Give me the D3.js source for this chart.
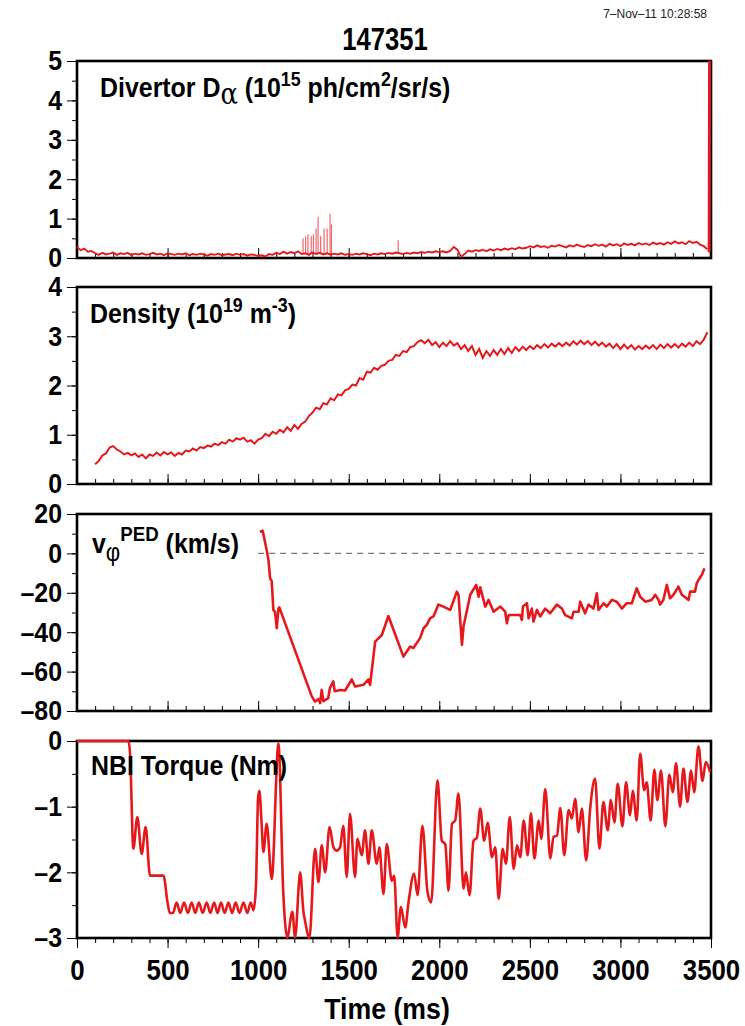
<!DOCTYPE html>
<html>
<head>
<meta charset="utf-8">
<script src="https://cdn.jsdelivr.net/npm/d3@7"></script>
<style>
  body { margin: 0; background: #fff; }
  svg text { font-family: "Liberation Sans", Arial, Helvetica, sans-serif; font-weight: bold; fill: #000; }
</style>
</head>
<body>
<svg id="chart" width="745" height="1026"></svg>
<script>
// ---- data ----
var shotNumber = "147351";
var stamp = "7\u2013Nov\u201311 10:28:58";
var xTicks = [0, 500, 1000, 1500, 2000, 2500, 3000, 3500];

// divertor D-alpha, sampled every 20 ms from 0 to 3480
var daVal = [
  0.28,0.2,0.24,0.16,0.18,
  0.12,0.08,0.13,0.09,0.11,0.14,0.08,0.12,0.1,0.13, 0.07,0.11,0.09,0.12,0.08,0.1,0.13,0.09,0.11,0.07,
  0.12,0.1,0.08,0.11,0.09,0.12,0.07,0.1,0.08,0.11, 0.09,0.06,0.1,0.08,0.11,0.07,0.09,0.1,0.07,0.11,
  0.08,0.1,0.06,0.09,0.08,
  0.05,0.07,0.04,0.1,0.08,0.13,0.1,0.16,0.11,0.15,0.12,0.17,0.1,
  0.12,0.08,0.14,0.1,0.13,0.09,0.12,0.08,0.11,0.09,0.12,0.08,
  0.1,0.08,0.11,0.09,0.12,0.1,0.07,0.11,0.09,0.12, 0.1,0.13,0.11,0.14,0.12,0.1,0.13,0.11,0.14,0.12,
  0.15,0.13,0.16,0.14,0.17,
  0.15,0.17,0.14,0.18,0.28,0.21,0.03,0.1,0.19,0.16, 0.2,0.18,0.21,0.17,0.22,0.19,0.23,0.2,0.24,0.21,
  0.25,0.22,0.27,0.24,0.26,
  0.3,0.27,0.32,0.28,0.3,0.26,0.31,0.29,0.33,0.3, 0.27,0.32,0.29,0.34,0.3,0.28,0.33,0.3,0.35,0.31,
  0.34,0.29,0.36,0.32,0.35,0.3,0.37,0.33,0.36,0.32, 0.38,0.34,0.37,0.33,0.39,0.35,0.38,0.34,0.4,0.36,
  0.42,0.37,0.4,0.35,0.43,0.38,0.41,0.34,0.3,0.22
];
var daTailT = [3486, 3490, 3492];
var daTailV = [0.15, 0.18, 5.0];
// ELM spikes
var elmT = [1248,1262,1275,1293,1305,1320,1331,1345,1364,1381,1397,1405,1773];
var elmV = [0.5,0.55,0.6,0.55,0.6,0.75,1.05,0.55,0.75,0.75,1.12,0.85,0.45];

// line-averaged density, sampled every 20 ms from 100 to 3480
var neVal = [
  0.4,0.47,0.58,0.62,0.74,0.77,0.7,0.66,0.6,0.63,
  0.58,0.62,0.55,0.6,0.52,0.6,0.57,0.64,0.58,0.65,
  0.6,0.64,0.57,0.63,0.6,0.68,0.66,0.72,0.68,0.75,
  0.73,0.78,0.76,0.82,0.79,0.85,0.82,0.9,0.86,0.93,
  0.9,0.94,0.86,0.89,0.82,0.9,0.93,1.02,0.97,1.06,
  1.02,1.1,1.05,1.15,1.08,1.2,1.12,1.22,1.27,1.38,
  1.45,1.55,1.52,1.64,1.62,1.74,1.7,1.82,1.8,1.9,
  1.93,2.02,2.0,2.15,2.12,2.28,2.26,2.36,2.32,2.4,
  2.42,2.5,2.52,2.62,2.6,2.7,2.68,2.78,2.8,2.88,
  2.92,2.86,2.93,2.82,2.88,2.78,2.87,2.8,2.9,2.81,
  2.86,2.74,2.82,2.7,2.8,2.62,2.74,2.56,2.7,2.6,
  2.72,2.62,2.74,2.64,2.76,2.66,2.78,2.7,2.79,2.72,
  2.8,2.74,2.82,2.76,2.84,2.77,2.85,2.79,2.86,2.8,
  2.87,2.81,2.9,2.83,2.91,2.84,2.9,2.82,2.89,2.81,
  2.87,2.79,2.85,2.76,2.84,2.74,2.83,2.75,2.82,2.73,
  2.8,2.74,2.81,2.75,2.82,2.74,2.83,2.76,2.84,2.77,
  2.84,2.77,2.85,2.79,2.87,2.8,2.9,2.84,2.93,3.08
];

// pedestal toroidal rotation
var vTime = [1010,1025,1047,1057,1066,1075,1084,1093,1103,1112,1117,1296,1314,1333,1342,1351,1360,1387,1396,1415,
  1423,1452,1480,1517,1535,1581,1609,1618,1646,1683,1719,1802,1839,1857,1894,1913,1931,1949,1968,1995,
  2023,2060,2097,2106,2125,2134,2171,2204,2217,2226,2254,2272,2300,2337,2364,2373,2383,2410,2447,2456,
  2462,2484,2493,2511,2520,2539,2557,2585,2612,2649,2677,2695,2732,2741,2769,2778,2805,2824,2851,2870,
  2879,2907,2925,2953,2980,3008,3035,3063,3090,3109,3137,3173,3192,3210,3219,3237,3256,3274,3293,3320,
  3339,3376,3385,3412,3421,3431,3449,3464];
var vVal = [11,11.5,1.7,-3.4,-12.7,-14,-28.7,-29.6,-38,-28,-27.4,-72.6,-75.2,-74,-76,-69.3,-75,-73.5,-68.4,-65,
  -70,-69.3,-69.6,-64,-67.6,-66.7,-64,-66.7,-44.8,-41.4,-31.8,-52.4,-47.3,-48,-43,-38,-36.3,-33,-32,-26,
  -27,-28.7,-19.4,-21,-46.5,-37,-21,-16,-22,-17.2,-27,-23.6,-29.6,-27,-29.6,-35.5,-31.3,-31.3,-31.3,-33.8,
  -27,-25.3,-33,-28,-34.6,-28.7,-32,-28,-30.4,-26,-28,-31.3,-33,-29.6,-29.6,-24.5,-30.4,-26,-28,-20.3,
  -28.7,-25.3,-27,-23.6,-24.5,-28,-25.3,-25.3,-17.7,-22,-24.5,-23.6,-21,-23.6,-26,-23.6,-16,-22.8,-21,-16.9,
  -21,-23.6,-19.4,-19.4,-15.2,-13.5,-11,-7.6];

// NBI torque
var tqTime = [0,284,293,311,333,357,379,403,477,500,512,
  530,550,570,591,612,633,653,673,694,716,736,757,776,795,815,836,856,876,897,919,940,959,975,
  988,1000,1007,1018,1029,1047,1075,1112,1139,1161,1189,1204,1232,1250,1259,1283,1314,1333,1351,1370,1394,1416,1434,
  1452,1470,1489,1507,1535,1548,1572,1590,1609,1627,1655,1669,1692,1710,1738,1751,1770,1788,1812,1830,1861,1880,
  1907,1935,1955,1990,2014,2033,2051,2070,2088,2106,2134,2147,2167,2189,2208,2226,2248,2267,2291,2309,2328,2350,
  2368,2389,2411,2429,2447,2466,2488,2506,2525,2549,2563,2585,2613,2631,2650,2668,2690,2714,2732,2750,2769,2787,
  2811,2833,2860,2884,2906,2930,2947,2967,2985,3011,3031,3053,3068,3090,3109,3131,3145,3167,3187,3204,3224,3248,
  3270,3289,3307,3329,3348,3370,3390,3407,3431,3453,3471,3495];
var tqVal = [0,0,-0.19,-1.64,-1.16,-1.72,-1.31,-2.05,-2.05,-2.46,-2.62,
  -2.62,-2.46,-2.62,-2.46,-2.62,-2.46,-2.62,-2.46,-2.62,-2.46,-2.62,-2.46,-2.62,-2.46,-2.62,-2.46,-2.62,-2.46,-2.62,-2.46,-2.62,-2.46,-2.58,
  -2.2,-0.85,-0.76,-1.2,-1.69,-1.26,-2.1,-0.04,-2.33,-2.99,-2.6,-2.99,-2.0,-2.6,-2.74,-3.0,-1.64,-2.15,-1.59,-2.0,-1.31,-1.62,-1.67,
  -1.62,-1.29,-2.07,-1.11,-2.07,-1.49,-1.74,-1.36,-1.87,-1.36,-1.87,-1.62,-2.33,-1.57,-2.13,-2.05,-2.99,-2.53,-2.84,-2.46,-2.02,-2.35,
  -1.29,-2.3,-2.46,-0.6,-1.52,-1.57,-2.28,-1.26,-1.21,-0.8,-2.25,-2.0,-2.35,-1.52,-1.47,-1.03,-1.52,-1.24,-1.77,-1.62,-2.4,-1.64,
  -1.87,-1.16,-1.95,-1.59,-1.77,-1.21,-1.74,-1.1,-1.79,-1.21,-1.49,-0.73,-1.79,-1.46,-1.44,-1.02,-1.74,-1.05,-1.18,-0.88,-1.39,-1.03,
  -1.82,-1.03,-0.57,-1.64,-0.93,-1.36,-0.9,-1.24,-0.65,-1.3,-0.63,-1.13,-0.76,-1.21,-0.19,-0.75,-0.63,-1.21,-0.44,-0.9,-0.45,-1.3,
  -0.51,-0.78,-0.34,-1.0,-0.42,-0.93,-0.45,-0.78,-0.08,-0.61,-0.32,-0.47];

// ---- layout ----
var red = "#e5191c";
var sx = 0.89;          // fonts in the original look slightly condensed
var xLeft = 77, xRight = 711, panelH = 197;

var svg = d3.select("#chart");
var x = d3.scaleLinear().domain([0, 3500]).range([xLeft, xRight]);

var panels = [
  { id: "da", top: 61,  dom: [0, 5],    major: [0,1,2,3,4,5],          minorStep: 0.5 },
  { id: "ne", top: 287, dom: [0, 4],    major: [0,1,2,3,4],            minorStep: 0.5 },
  { id: "vp", top: 514, dom: [-80, 20], major: [-80,-60,-40,-20,0,20], minorStep: 10 },
  { id: "tq", top: 741, dom: [-3, 0],   major: [-3,-2,-1,0],           minorStep: 0.5 }
];

function scaledText(g, tx, ty, size, s) {
  return g.append("text")
    .attr("transform", "translate(" + tx + "," + ty + ") scale(" + (s || sx) + ",1)")
    .style("font-size", size + "px");
}

function lineFor(y) {
  return d3.line().x(function(d) { return x(d[0]); }).y(function(d) { return y(d[1]); });
}

svg.append("text")
  .attr("x", 707).attr("y", 18)
  .attr("text-anchor", "end")
  .style("font-size", "12px").style("font-weight", "normal").style("fill", "#222")
  .text(stamp);

scaledText(svg, 385, 50, 32, 0.8).attr("text-anchor", "middle").text(shotNumber);

panels.forEach(function(p, i) {
  var y = d3.scaleLinear().domain(p.dom).range([p.top + panelH, p.top]);
  p.y = y;
  var g = svg.append("g").attr("class", "panel-" + p.id);

  g.append("clipPath").attr("id", "clip-" + p.id)
    .append("rect")
      .attr("x", xLeft).attr("y", p.top - 2)
      .attr("width", xRight - xLeft + 1).attr("height", panelH + 4);

  // minor y ticks
  var minors = d3.range(p.dom[0], p.dom[1] + 1e-6, p.minorStep);
  g.append("g")
    .attr("transform", "translate(" + xLeft + ",0)")
    .call(d3.axisLeft(y).tickValues(minors).tickSize(5).tickFormat(""))
    .call(function(a) { a.select(".domain").remove(); });

  // major y ticks with labels
  g.append("g")
    .attr("class", "yaxis")
    .attr("transform", "translate(" + xLeft + ",0)")
    .call(d3.axisLeft(y).tickValues(p.major).tickSize(10).tickPadding(5)
      .tickFormat(function(d) { return d < 0 ? "\u2013" + Math.abs(d) : d; }))
    .call(function(a) {
      a.select(".domain").remove();
      a.selectAll("text")
        .attr("x", -15 / sx)
        .attr("transform", "scale(" + sx + ",1)")
        .style("font-size", "28px");
    });

  // x ticks: inside for the upper panels, outside for the bottom one
  var last = (i === panels.length - 1);
  var dir = last ? 1 : -1;
  g.append("g")
    .attr("transform", "translate(0," + (p.top + panelH) + ")")
    .call(d3.axisBottom(x).tickValues(d3.range(0, 3501, 100)).tickSize(5 * dir).tickFormat(""))
    .call(function(a) { a.select(".domain").remove(); });
  var xMajor = g.append("g")
    .attr("transform", "translate(0," + (p.top + panelH) + ")")
    .call(d3.axisBottom(x).tickValues(xTicks).tickSize(10 * dir).tickPadding(last ? 11 : 0)
      .tickFormat(last ? d3.format("d") : ""));
  xMajor.select(".domain").remove();
  if (last) {
    xMajor.selectAll("text")
      .attr("transform", "scale(" + sx + ",1)")
      .style("font-size", "29px");
  }

  // frame
  g.append("rect")
    .attr("x", xLeft).attr("y", p.top)
    .attr("width", xRight - xLeft).attr("height", panelH)
    .attr("fill", "none").attr("stroke", "#000").attr("stroke-width", 2.6);

  p.g = g;
});

// D-alpha
(function() {
  var p = panels[0], y = p.y;
  var body = p.g.append("g").attr("clip-path", "url(#clip-da)");
  body.selectAll("line.elm")
    .data(d3.zip(elmT, elmV))
    .enter().append("line")
      .attr("class", "elm")
      .attr("x1", function(d) { return x(d[0]); })
      .attr("x2", function(d) { return x(d[0]); })
      .attr("y1", y(0.1))
      .attr("y2", function(d) { return y(d[1]); })
      .attr("stroke", red).attr("stroke-opacity", 0.65).attr("stroke-width", 1.2);
  body.append("path")
    .datum(d3.zip(d3.range(0, 3500, 20), daVal))
    .attr("fill", "none").attr("stroke", red).attr("stroke-width", 1.9)
    .attr("d", lineFor(y));
  body.append("path")
    .datum(d3.zip(daTailT, daTailV))
    .attr("fill", "none").attr("stroke", red).attr("stroke-width", 3)
    .attr("d", lineFor(y));
})();

// density
(function() {
  var p = panels[1], y = p.y;
  p.g.append("g").attr("clip-path", "url(#clip-ne)")
    .append("path")
    .datum(d3.zip(d3.range(100, 3500, 20), neVal))
    .attr("fill", "none").attr("stroke", red).attr("stroke-width", 2)
    .attr("d", lineFor(y));
})();

// rotation
(function() {
  var p = panels[2], y = p.y;
  var body = p.g.append("g").attr("clip-path", "url(#clip-vp)");
  body.append("line")
    .attr("x1", x(1000)).attr("x2", x(3490))
    .attr("y1", y(0)).attr("y2", y(0))
    .attr("stroke", "#777").attr("stroke-width", 1.3).attr("stroke-dasharray", "6,5");
  body.append("path")
    .datum(d3.zip(vTime, vVal))
    .attr("fill", "none").attr("stroke", red).attr("stroke-width", 2.6)
    .attr("stroke-linejoin", "round")
    .attr("d", lineFor(y));
})();

// torque
(function() {
  var p = panels[3], y = p.y;
  p.g.append("g").attr("clip-path", "url(#clip-tq)")
    .append("path")
    .datum(d3.zip(tqTime, tqVal))
    .attr("fill", "none").attr("stroke", red).attr("stroke-width", 2.6)
    .attr("stroke-linejoin", "round")
    .attr("d", lineFor(y).curve(d3.curveMonotoneX));
})();

// panel labels
var sup = "20px";
var t1 = scaledText(svg, 100, 97, 28);
t1.append("tspan").text("Divertor D");
t1.append("tspan").text("\u03b1").attr("dy", 7)
  .style("font-family", "'DejaVu Serif', 'Liberation Serif', serif").style("font-weight", "normal").style("font-size", "29px");
t1.append("tspan").text(" (10").attr("dy", -7);
t1.append("tspan").text("15").attr("dy", -11).style("font-size", sup);
t1.append("tspan").text(" ph/cm").attr("dy", 11);
t1.append("tspan").text("2").attr("dy", -11).style("font-size", sup);
t1.append("tspan").text("/sr/s)").attr("dy", 11);

var t2 = scaledText(svg, 90, 323, 28);
t2.append("tspan").text("Density (10");
t2.append("tspan").text("19").attr("dy", -11).style("font-size", sup);
t2.append("tspan").text(" m").attr("dy", 11);
t2.append("tspan").text("-3").attr("dy", -11).style("font-size", sup);
t2.append("tspan").text(")").attr("dy", 11);

var t3 = scaledText(svg, 92, 553, 28);
t3.append("tspan").text("v");
t3.append("tspan").text("\u03c6").attr("dy", 8).style("font-size", "25px").style("font-weight", "normal");
t3.append("tspan").text("PED").attr("dy", -20).style("font-size", "21px");
t3.append("tspan").text(" (km/s)").attr("dy", 12);

scaledText(svg, 91, 775, 28).text("NBI Torque (Nm)");

scaledText(svg, 387, 1019, 30).attr("text-anchor", "middle").text("Time (ms)");
</script>
</body>
</html>
